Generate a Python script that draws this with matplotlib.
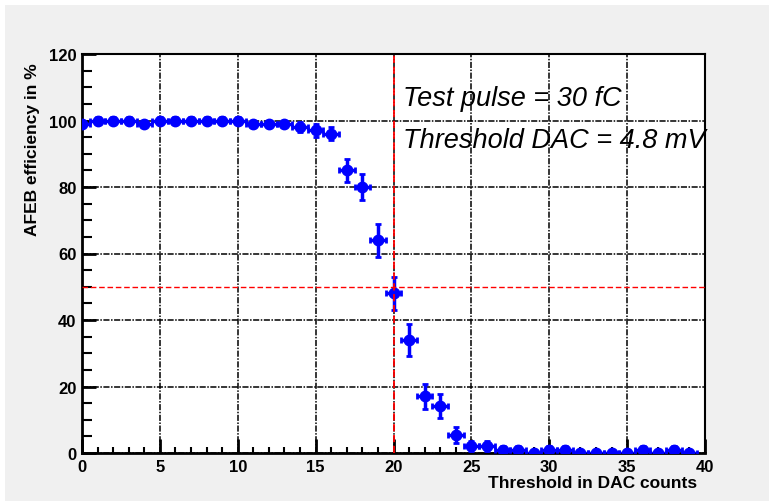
import matplotlib
matplotlib.use("Agg")
import matplotlib.pyplot as plt
from matplotlib.patches import Rectangle
from matplotlib.ticker import MultipleLocator

plt.rcParams["font.family"] = ["Liberation Sans", "DejaVu Sans"]

# threshold in DAC counts and measured efficiency (%)
thresholds = list(range(40))
efficiency = [99, 100, 100, 100, 99, 100, 100, 100, 100, 100,
              100, 99, 99, 99, 98, 97, 96, 85, 80, 64,
              48, 34, 17, 14, 5.5, 2, 2, 1, 1, 0,
              1, 1, 0, 0, 0, 0, 1, 0, 1, 0]
eff_err = [1, 1, 1, 1, 1, 1, 1, 1, 1, 1,
           1, 1, 1, 1, 1.5, 2, 2, 3.5, 4, 5,
           5, 4.7, 3.9, 3.6, 2.4, 1.5, 1.5, 1, 1, 1,
           1, 1, 1, 1, 1, 1, 1, 1, 1, 1]
thr_err = [0.5] * 40

half_point_x = 20
half_point_y = 50
notes = ["Test pulse = 30 fC", "Threshold DAC = 4.8 mV"]

fig = plt.figure(figsize=(7.69, 5.02), dpi=100)
fig.patch.set_facecolor("white")
fig.patches.append(Rectangle((5 / 769, 0), 1, 496 / 502, transform=fig.transFigure,
                             facecolor="#f0f0f0", edgecolor="none", zorder=-10))

ax = fig.add_axes([82 / 769, 48 / 502, 623 / 769, 399 / 502])
ax.set_facecolor("white")

ax.errorbar(thresholds, efficiency, xerr=thr_err, yerr=eff_err,
            fmt="o", color="blue", markersize=7.5, elinewidth=2.5,
            capsize=2.5, capthick=2, zorder=3)

ax.axvline(half_point_x, color="red", linestyle=(0, (4, 2)), linewidth=1.3, zorder=4)
ax.axhline(half_point_y, color="red", linestyle=(0, (4, 2)), linewidth=1.0, zorder=4)

ax.set_xlim(0, 40)
ax.set_ylim(0, 120)
ax.xaxis.set_major_locator(MultipleLocator(5))
ax.xaxis.set_minor_locator(MultipleLocator(1))
ax.yaxis.set_major_locator(MultipleLocator(20))
ax.yaxis.set_minor_locator(MultipleLocator(5))

ax.grid(True, which="major", color="black", linestyle=(0, (4, 1, 1, 1)), linewidth=1.1)
ax.set_axisbelow(True)

ax.tick_params(axis="both", which="major", direction="in", length=10, width=2,
               labelsize=12, pad=4)
ax.tick_params(axis="y", which="minor", direction="in", length=7, width=1.5)
ax.tick_params(axis="x", which="minor", direction="in", length=4, width=1.5)
for lab in ax.get_xticklabels() + ax.get_yticklabels():
    lab.set_fontweight("bold")

for side in ["left", "bottom"]:
    ax.spines[side].set_linewidth(2)
for side in ["right", "top"]:
    ax.spines[side].set_linewidth(1.5)

ax.set_xlabel("Threshold in DAC counts", fontsize=12.5, fontweight="bold", ha="right")
ax.xaxis.set_label_coords(0.987, -0.055)
ax.set_ylabel("AFEB efficiency in %", fontsize=12.5, fontweight="bold", loc="top")
ax.yaxis.set_label_coords(-0.068, 0.98)

ax.text(20.6, 104.7, notes[0], fontsize=19.5, style="italic", va="baseline", zorder=5)
ax.text(20.6, 92.0, notes[1], fontsize=19.5, style="italic", va="baseline", zorder=5)

fig.savefig("out.png", dpi=100)
plt.close(fig)
